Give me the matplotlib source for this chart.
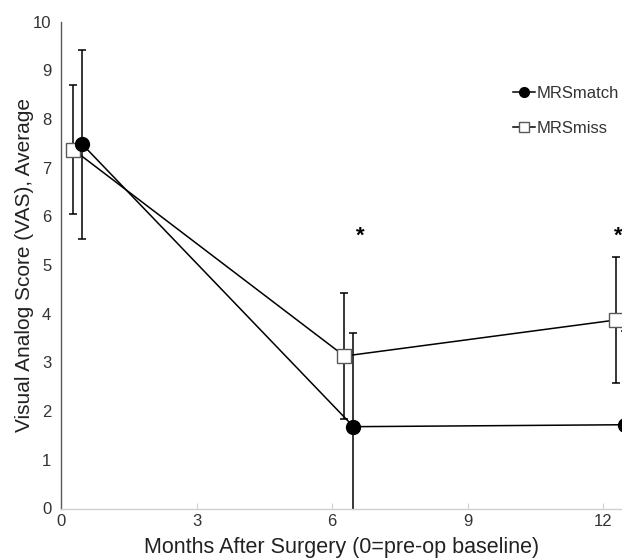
import matplotlib
matplotlib.use("Agg")
import matplotlib.pyplot as plt
from matplotlib.lines import Line2D

plt.rcParams['font.family'] = ['Liberation Sans', 'DejaVu Sans']

# Data
match_x = [0.47, 6.47, 12.47]
match_y = [7.48, 1.68, 1.72]
match_err = [1.94, 1.93, 1.93]
miss_x = [0.27, 6.27, 12.27]
miss_y = [7.37, 3.13, 3.87]
miss_err = [1.32, 1.30, 1.30]
star_x = [6.62, 12.32]
star_y = [5.37, 5.37]
xticks = [0, 3, 6, 9, 12]
yticks = list(range(0, 11))

fig = plt.figure(figsize=(6.22, 5.59), dpi=100)
ax = fig.add_axes([61/622, 1 - 508.5/559, 1 - 61/622, (508.5 - 21.5)/559])

ax.errorbar(miss_x, miss_y, yerr=miss_err, fmt='none', ecolor='black',
            elinewidth=1.1, capsize=3, capthick=1.1, zorder=2, clip_on=False)
ax.errorbar(match_x, match_y, yerr=match_err, fmt='none', ecolor='black',
            elinewidth=1.1, capsize=3, capthick=1.1, zorder=2, clip_on=True)
ax.plot(miss_x, miss_y, color='black', lw=1.1, marker='s', markersize=9.5,
        markerfacecolor='white', markeredgecolor='#595959', markeredgewidth=1.0,
        label='MRSmiss', zorder=3, clip_on=False)
ax.plot(match_x, match_y, color='black', lw=1.1, marker='o', markersize=10,
        markerfacecolor='black', markeredgecolor='black',
        label='MRSmatch', zorder=4, clip_on=False)

for sx, sy in zip(star_x, star_y):
    ax.text(sx, sy, '*', ha='center', va='bottom', fontsize=16, fontweight='bold',
            color='black')

ax.set_xlim(0, 12.41)
ax.set_ylim(0, 10)
ax.set_xticks(xticks)
ax.set_yticks(yticks)
ax.tick_params(axis='x', direction='in', length=4, color='#d0d0d0', labelsize=12,
               labelcolor='#333333', pad=4)
ax.tick_params(axis='y', length=0, labelsize=12, labelcolor='#333333', pad=7)
for s in ['top', 'right']:
    ax.spines[s].set_visible(False)
ax.spines['left'].set_color('#595959')
ax.spines['left'].set_linewidth(1.0)
ax.spines['bottom'].set_color('#d0d0d0')
ax.spines['bottom'].set_linewidth(1.0)

ax.set_xlabel('Months After Surgery (0=pre-op baseline)', fontsize=15.5, color='#222222',
              labelpad=6)
ax.set_ylabel('Visual Analog Score (VAS), Average', fontsize=15, color='#222222',
              labelpad=-1)

hm = Line2D([], [], color='black', lw=1.1, marker='o', markersize=7, markerfacecolor='black')
hs = Line2D([], [], color='black', lw=1.1, marker='s', markersize=7,
            markerfacecolor='white', markeredgecolor='#595959')
ax.legend([hm, hs], ['MRSmatch', 'MRSmiss'], loc='upper left', bbox_to_anchor=(0.794, 0.8815),
          frameon=False, handlelength=1.3, handletextpad=0.1, labelspacing=1.2,
          fontsize=12, labelcolor='#333333', borderaxespad=0)

fig.savefig('out.png', dpi=100)
